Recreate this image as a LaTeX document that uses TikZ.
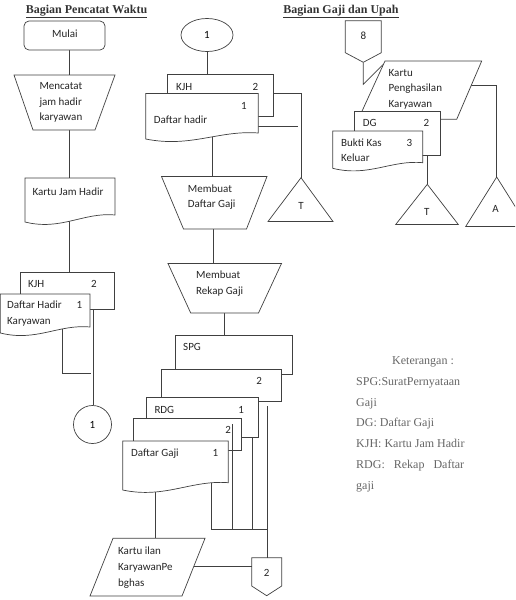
\documentclass[tikz,border=0pt]{standalone}
\usepackage{fontspec}
\setmainfont{Liberation Serif}
\newfontfamily\calfont{Carlito}
\usetikzlibrary{shapes.geometric}
\newcommand\wdoc[5]{% x0 x1 top yR yL
  \pgfmathsetmacro\wA{#1+0.4*(#2-#1)}%
  \pgfmathsetmacro\wB{#1+0.65*(#2-#1)}%
  \pgfmathsetmacro\wC{#5+9}%
  \pgfmathsetmacro\wD{#4-3}%
  \draw[shp] (#1,#3) -- (#2,#3) -- (#2,#4) .. controls (\wB,\wD) and (\wA,\wC) .. (#1,#5) -- cycle;}
\begin{document}
\begin{tikzpicture}[x=1pt,y=-1pt,
  ln/.style={draw=black!75,line width=0.7pt},
  shp/.style={draw=black!75,fill=white,line width=0.7pt},
  tx/.style={font=\calfont\fontsize{11}{13}\selectfont,anchor=base west,inner sep=0pt,text=black!85},
  tc/.style={font=\calfont\fontsize{11}{13}\selectfont,anchor=center,inner sep=0pt,text=black!85},
  ket/.style={font=\fontsize{12}{14}\selectfont,anchor=base west,inner sep=0pt,text=black!60},
  ttl/.style={font=\bfseries\fontsize{12}{14}\selectfont,anchor=base,inner sep=0pt,text=black!80}]
\useasboundingbox (0,0) rectangle (515,600);
\clip (0,0) rectangle (515,600);

% titles
\node[ttl] (title1) at (86.5,13.5) {\underline{Bagian Pencatat Waktu}};
\node[ttl] (title2) at (341,13.5) {\underline{Bagian Gaji dan Upah}};

% ---------------- left column ----------------
\coordinate (mulaiS) at (69,50);
\coordinate (tra1N) at (69,75);
\coordinate (tra1S) at (69,130);
\coordinate (kjhN) at (69,178);
\coordinate (kjhS) at (69,215);
\coordinate (kjhlN) at (69,272);
\coordinate (kjhlS) at (93.5,305);
\coordinate (dhkS) at (62,325);
\coordinate (dhkC) at (62,373);
\coordinate (dhkE) at (91,373);
\node[circle,draw=black!75,line width=0.7pt,fill=white,minimum size=38pt,inner sep=0pt,font=\calfont\fontsize{11}{13}\selectfont] (cone) at (92.5,424.5) {1};

\draw[ln] (mulaiS) -- (tra1N);
\draw[ln] (tra1S) -- (kjhN);
\draw[ln] (kjhS) -- (kjhlN);
\draw[ln] (kjhlS) -- (kjhlS |- cone.north);
\draw[ln] (dhkS) -- (dhkC) -- (dhkE);

\node[shp,rounded corners=5pt,minimum width=81pt,minimum height=29pt,inner sep=0pt] (mulai) at (64.5,35.5) {};
\node[tc] (mulaitxt) at (65,33.5) {Mulai};
\draw[shp] (14,75) -- (115,75) -- (95,130) -- (33,130) -- cycle;
\node[tx] (mc1) at (39.3,89.5) {Mencatat};
\node[tx] (mc2) at (39.3,105) {jam hadir};
\node[tx] (mc3) at (39.3,120.5) {karyawan};

\wdoc{25}{115}{178}{215}{222}
\node[tx] (kjhtxt) at (32.3,195) {Kartu Jam Hadir};

\draw[shp] (20.7,272) rectangle (114.7,309);
\node[tx] (kjhl1) at (28,287) {KJH};
\node[tx] (kjhl2) at (91,287) {2};
\wdoc{0.4}{90}{294}{327}{333}
\node[tx] (dhk1) at (7,308.5) {Daftar Hadir};
\node[tx] (dhk2) at (76.5,308.5) {1};
\node[tx] (dhk3) at (7,324) {Karyawan};

% ---------------- middle column ----------------
\node[ellipse,draw=black!75,line width=0.7pt,fill=white,minimum width=52pt,minimum height=33pt,inner sep=0pt,font=\calfont\fontsize{11}{13}\selectfont] (eone) at (207,35) {1};
\coordinate (kjhmN) at (207,74);
\coordinate (kjhmE) at (273.3,93);
\coordinate (tmK) at (301,93);
\coordinate (tmN) at (301,177.7);
\coordinate (dhE) at (258.3,126.5);
\coordinate (dhF) at (297.7,126.5);
\coordinate (dhS) at (212.8,136);
\coordinate (tra2N) at (212.8,176.5);
\coordinate (tra2S) at (213.5,229);
\coordinate (tra3N) at (213.5,263.5);
\coordinate (tra3S) at (224,313);
\coordinate (spgN) at (224,335);
\coordinate (dgS) at (155,485);
\coordinate (kiN) at (155,538.3);
\coordinate (dgR) at (211.7,475);
\coordinate (dgRb) at (211.7,529);
\coordinate (busE) at (268.3,529);

\draw[ln] (eone.south) -- (kjhmN);
\draw[ln] (kjhmE) -- (tmK) -- (tmN);
\draw[ln] (dhE) -- (dhF);
\draw[ln] (dhS) -- (tra2N);
\draw[ln] (tra2S) -- (tra3N);
\draw[ln] (tra3S) -- (spgN);
\draw[ln] (dgS) -- (kiN);
\draw[ln] (dgR) -- (dgRb) -- (busE);

\draw[shp] (167.3,74) rectangle (273.3,116.5);
\node[tx] (kjhm1) at (176,90) {KJH};
\node[tx] (kjhm2) at (252.5,90) {2};
\wdoc{145.7}{258.3}{93.5}{133}{139}
\node[tx] (dh1) at (240.8,109) {1};
\node[tx] (dh2) at (153.7,123) {Daftar hadir};

\draw[shp] (301,177.7) -- (333,221.5) -- (268,221.5) -- cycle;
\node[tc] (tmid) at (301,206) {T};

\draw[shp] (161.5,176.5) -- (267,176.5) -- (246.5,229) -- (183.5,229) -- cycle;
\node[tx] (mdg1) at (187.7,192) {Membuat};
\node[tx] (mdg2) at (187.7,207.3) {Daftar Gaji};

\draw[shp] (168,263.5) -- (281.5,263.5) -- (258.5,313) -- (190.7,313) -- cycle;
\node[tx] (mrg1) at (196,278) {Membuat};
\node[tx] (mrg2) at (196,294) {Rekap Gaji};

\draw[shp] (175,335) rectangle (292.3,374.3);
\node[tx] (spg) at (183,350) {SPG};
\draw[shp] (161.7,369.3) rectangle (281.7,401);
\node[tx] (spg2) at (256.2,384.7) {2};
\draw[shp] (146,397.7) rectangle (258.3,437.3);
\node[tx] (rdg) at (154.3,413) {RDG};
\node[tx] (rdg1) at (238.2,413) {1};
\draw[shp] (133.3,418.7) rectangle (241.7,450);
\node[tx] (rdg2) at (225.2,433.7) {2};
\wdoc{122.7}{228.3}{441}{482.7}{490}
\node[tx] (dg1) at (131,456.7) {Daftar Gaji};
\node[tx] (dg2) at (212.5,456.7) {1};

\coordinate (l1a) at (267.7,406);
\coordinate (l2a) at (252.7,437.3);
\coordinate (l2b) at (252.7,529);
\coordinate (l3a) at (232,424);
\coordinate (l3b) at (232,529);
\coordinate (kiE) at (193.6,566.7);

\draw[shp] (113,538.3) -- (205,538.3) -- (182,596) -- (90,596) -- cycle;
\node[tx] (ki1) at (118,554.5) {Kartu ilan};
\node[tx] (ki2) at (118,570.3) {KaryawanPe};
\node[tx] (ki3) at (118,586) {bghas};

\draw[shp] (251.7,557.7) -- (281.7,557.7) -- (281.7,586) -- (266.7,595.7) -- (251.7,586) -- cycle;
\node[tc] (offtwo) at (266.7,572.7) {2};
\coordinate (offtwoN) at (267.7,557.7);
\coordinate (offtwoW) at (251.7,566.7);

\draw[ln] (l1a) -- (offtwoN);
\draw[ln] (l2a) -- (l2b);
\draw[ln] (l3a) -- (l3b);
\draw[ln] (kiE) -- (offtwoW);

% ---------------- right column ----------------
\coordinate (eightS) at (363.3,62.3);
\coordinate (eightB) at (363.3,84.3);
\coordinate (kpkW) at (383.2,64.5);
\coordinate (kpkE) at (471.4,85);
\coordinate (aK) at (496.7,85);
\coordinate (aN) at (496.7,177);
\coordinate (dgrS) at (427.3,155);
\coordinate (trN) at (427.3,184.3);

\draw[ln] (eightS) -- (eightB) -- (kpkW);
\draw[ln] (kpkE) -- (aK) -- (aN);
\draw[ln] (dgrS) -- (trN);

\draw[shp] (345.3,20.7) -- (381.3,20.7) -- (381.3,52.7) -- (363.3,62.3) -- (345.3,52.7) -- cycle;
\node[tc] (eight) at (363.3,35.5) {8};

\draw[shp] (385,61) -- (481.7,61) -- (456.7,119.3) -- (358.3,119.3) -- cycle;
\node[tx] (kpk1) at (388.5,76) {Kartu};
\node[tx] (kpk2) at (388.5,91.5) {Penghasilan};
\node[tx] (kpk3) at (388.5,107) {Karyawan};

\draw[shp] (354.7,111.7) rectangle (440.3,155);
\node[tx] (dgr1) at (362.7,126.3) {DG};
\node[tx] (dgr2) at (423.5,126.3) {2};
\wdoc{332.7}{422.7}{131}{162.7}{168.3}
\node[tx] (bk1) at (341,146) {Bukti Kas};
\node[tx] (bk2) at (406.5,146) {3};
\node[tx] (bk3) at (341,161.5) {Keluar};

\draw[shp] (427.3,184.3) -- (458.3,224.5) -- (395.7,224.5) -- cycle;
\node[tc] (tright) at (426.7,212) {T};
\draw[shp] (496.7,177) -- (527.7,226.5) -- (465.7,226.5) -- cycle;
\node[tc] (aright) at (495.5,208.5) {A};

% ---------------- legend ----------------
\node[ket] (k0) at (392,364.5) {Keterangan :};
\node[ket] (k1) at (356,385.3) {SPG:SuratPernyataan};
\node[ket] (k2) at (356,406) {Gaji};
\node[ket] (k3) at (356,426.8) {DG: Daftar Gaji};
\node[ket] (k4) at (356,447.5) {KJH: Kartu Jam Hadir};
\node[ket] (k5) at (356,468.3) {\hbox to 108pt{RDG:\hfill Rekap\hfill Daftar}};
\node[ket] (k6) at (356,489) {gaji};
\end{tikzpicture}
\end{document}
